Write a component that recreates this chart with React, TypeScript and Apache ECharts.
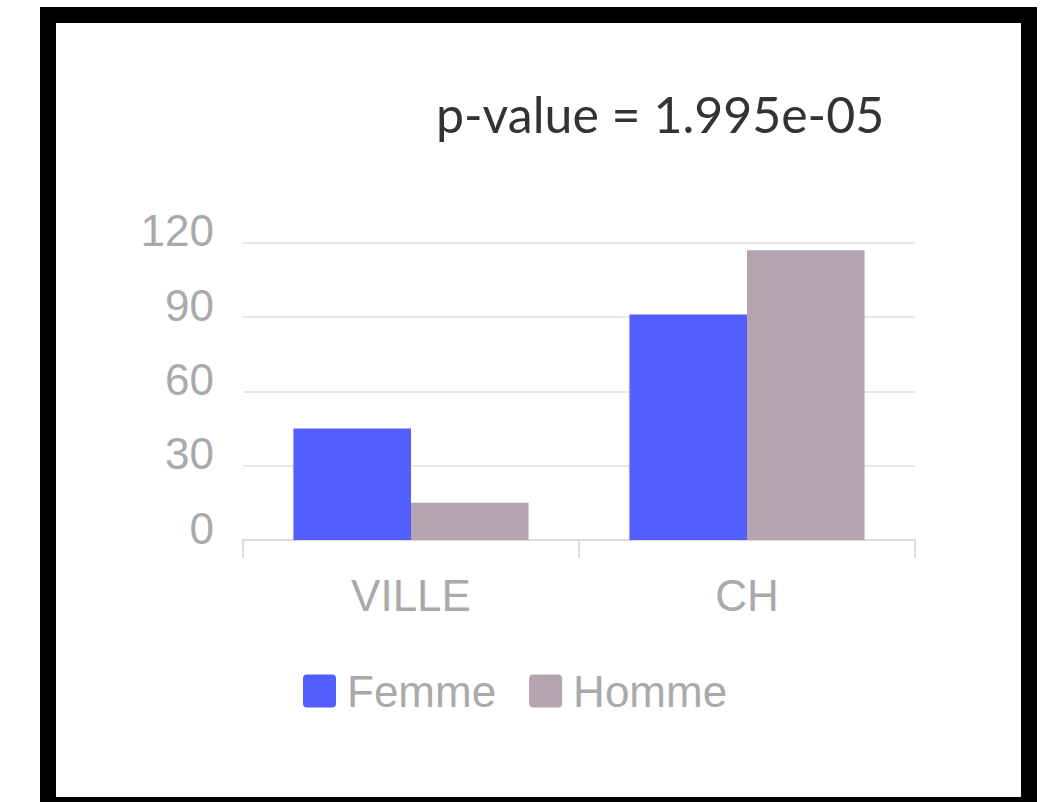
import React, { useEffect, useRef } from "react";
import * as echarts from "echarts";

const categories = ["VILLE", "CH"];
const femme = [45, 91];
const homme = [15, 117];
const seriesNames = ["Femme", "Homme"];
const titleText = "p-value = 1.995e-05";

const legendIcon =
  "path://M4,0 H29 A4,4 0 0 1 33,4 V29 A4,4 0 0 1 29,33 H4 A4,4 0 0 1 0,29 V4 A4,4 0 0 1 4,0 Z";

export default function App() {
  const ref = useRef<HTMLDivElement>(null);
  useEffect(() => {
    if (!ref.current) return;
    const chart = echarts.init(ref.current, undefined, { renderer: "svg" });
    chart.setOption({
      animation: false,
      title: {
        text: titleText,
        left: 431,
        top: 84,
        textStyle: { fontFamily: "Lato", fontSize: 50, fontWeight: "normal", color: "#333" },
      },
      legend: {
        data: seriesNames,
        left: 298,
        top: 664,
        itemWidth: 33,
        itemHeight: 33,
        itemGap: 33,
        icon: legendIcon,
        textStyle: {
          fontFamily: "Liberation Sans, Arial, sans-serif",
          fontSize: 44,
          color: "#aaa",
          padding: [0, 0, 0, 6],
        },
      },
      grid: { left: 243, right: 127, top: 242.7, bottom: 262 },
      xAxis: {
        type: "category",
        data: categories,
        axisLine: { lineStyle: { color: "#dcdcdc", width: 2 } },
        axisTick: { show: true, length: 18, lineStyle: { color: "#dcdcdc", width: 2 } },
        axisLabel: {
          margin: 33,
          fontFamily: "Liberation Sans, Arial, sans-serif",
          fontSize: 44,
          color: "#aaa",
        },
      },
      yAxis: {
        type: "value",
        min: 0,
        max: 120,
        interval: 30,
        axisLine: { show: false },
        axisTick: { show: false },
        splitLine: { lineStyle: { color: "#e8e8e8", width: 2 } },
        axisLabel: {
          margin: 29,
          verticalAlign: "bottom",
          lineHeight: 24,
          fontFamily: "Liberation Sans, Arial, sans-serif",
          fontSize: 44,
          color: "#aaa",
        },
      },
      series: [
        {
          name: seriesNames[0],
          type: "bar",
          data: femme,
          barGap: "0%",
          barCategoryGap: "30%",
          itemStyle: { color: "#525ffe" },
        },
        {
          name: seriesNames[1],
          type: "bar",
          data: homme,
          barGap: "0%",
          barCategoryGap: "30%",
          itemStyle: { color: "#b5a4ad" },
        },
      ],
    });
    return () => chart.dispose();
  }, []);
  return (
    <div style={{ position: "fixed", left: 0, top: 0, width: 1042, height: 802, background: "#fff", overflow: "hidden" }}>
      <div
        style={{
          position: "absolute",
          left: 40,
          top: 7,
          width: 965,
          height: 774,
          border: "16px solid #000",
          background: "#fff",
        }}
      />
      <div ref={ref} style={{ position: "absolute", left: 0, top: 0, width: 1042, height: 802 }} />
    </div>
  );
}
